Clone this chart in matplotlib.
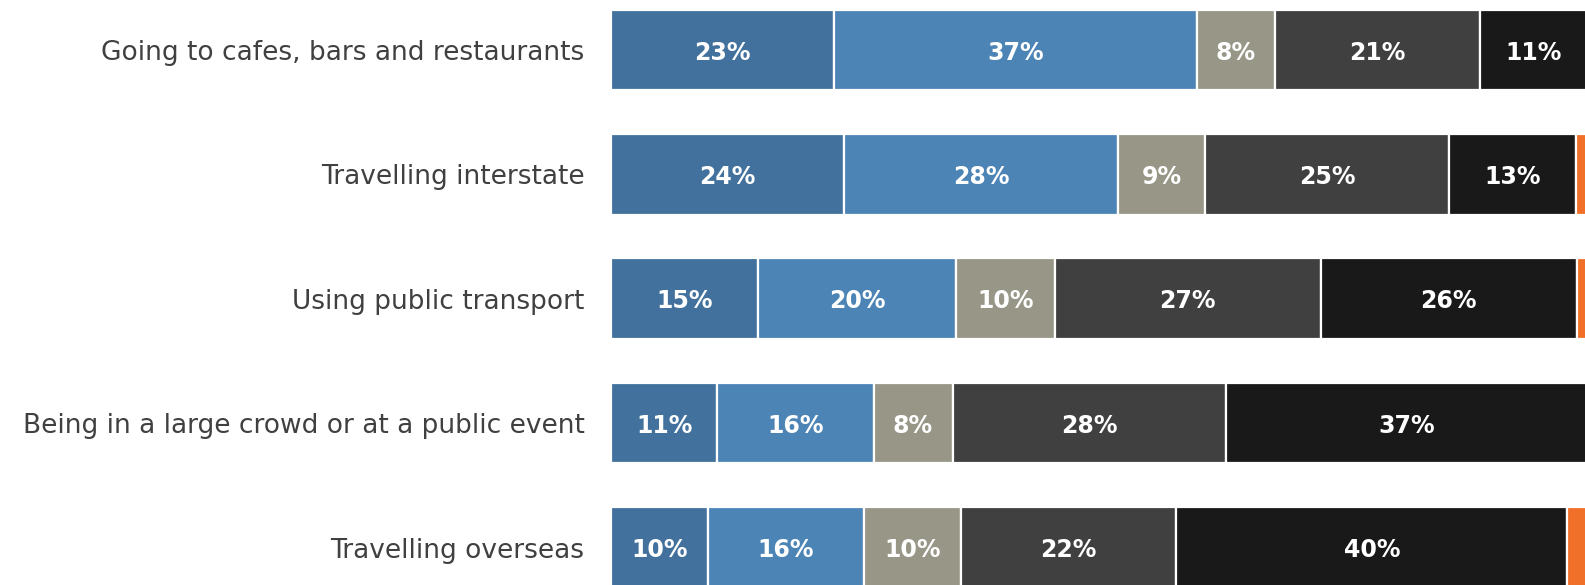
import matplotlib
matplotlib.use("Agg")
import matplotlib.pyplot as plt
import numpy as np

# Datos (porcentajes por actividad)
categorias = ["Going to cafes, bars and restaurants",
              "Travelling interstate",
              "Using public transport",
              "Being in a large crowd or at a public event",
              "Travelling overseas"]

seg1 = [22.9, 23.9, 15.1, 10.9, 9.9]
seg2 = [37.1, 28.0, 20.2, 16.0, 16.0]
seg3 = [8.0, 9.0, 10.2, 8.1, 10.0]
seg4 = [21.0, 25.0, 27.2, 28.0, 22.0]
seg5 = [11.0, 13.0, 26.3, 37.0, 40.1]
seg6 = [0.0, 1.1, 1.2, 0.0, 2.0]

series = [seg1, seg2, seg3, seg4, seg5, seg6]
colores = ["#41719C", "#4D84B6", "#979687", "#404040", "#191919", "#F07029"]

fig = plt.figure(figsize=(15.85, 5.85), dpi=100)
ax = fig.add_axes([611 / 1585, 0, 1 - 611 / 1585, 1])

y = np.arange(len(categorias))
izq = np.zeros(len(categorias))
for i, (vals, col) in enumerate(zip(series, colores)):
    vals = np.array(vals)
    ax.barh(y, vals, left=izq, height=0.648, color=col,
            edgecolor="white", linewidth=1.6)
    if i < 5:
        for yy, l, v in zip(y, izq, vals):
            if v > 0:
                ax.text(l + v / 2, yy, f"{round(v):d}%", ha="center",
                        va="center_baseline", color="white", fontsize=17,
                        fontweight="bold", family="DejaVu Sans")
    izq += vals

ax.set_xlim(0, 99.8)
ax.set_ylim(4.301, -0.402)
ax.set_yticks(y)
ax.set_yticklabels(categorias, fontsize=19, color="#404040", family="DejaVu Sans")
ax.tick_params(axis="y", length=0, pad=19)
ax.set_xticks([])
for s in ax.spines.values():
    s.set_visible(False)

fig.savefig("out.png", dpi=100)
